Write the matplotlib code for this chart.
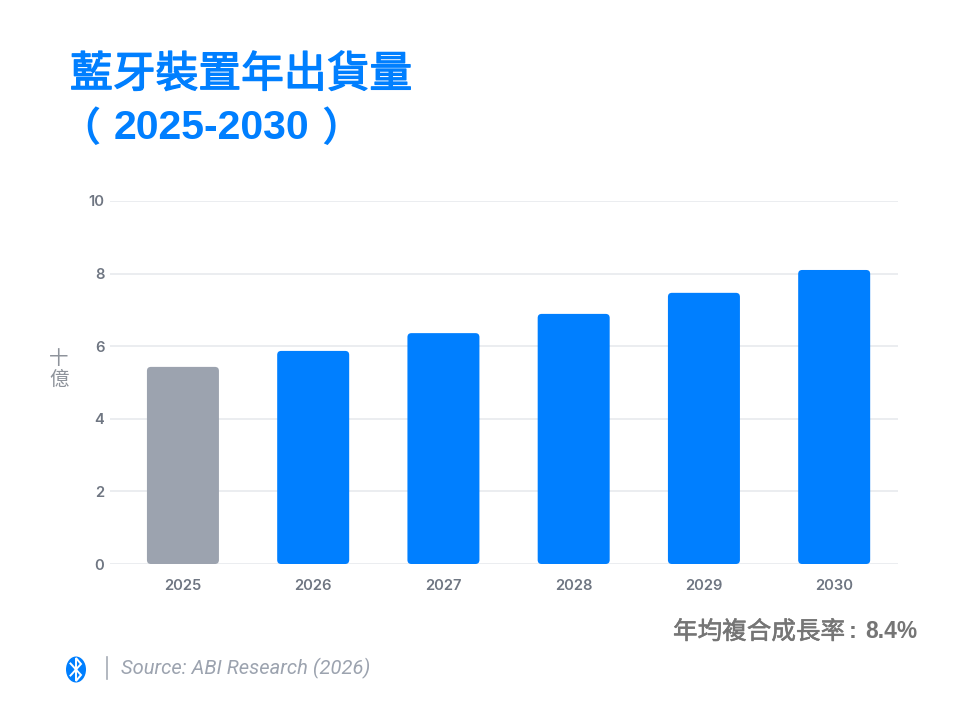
import matplotlib
matplotlib.use("Agg")
import matplotlib.pyplot as plt
import matplotlib.patheffects as pe
from matplotlib.patches import FancyBboxPatch, Ellipse
from matplotlib.lines import Line2D

years = ["2025", "2026", "2027", "2028", "2029", "2030"]
shipments = [5.43, 5.87, 6.36, 6.89, 7.47, 8.10]
bar_colors = ["#9CA3AF", "#007FFF", "#007FFF", "#007FFF", "#007FFF", "#007FFF"]
y_ticks = [0, 2, 4, 6, 8, 10]

W, H = 960, 720
CJK = ["Noto Sans CJK TC", "DejaVu Sans"]
BLUE = "#007FFF"


def fx(px):
    return px / W


def fy(px):
    return 1 - px / H


fig = plt.figure(figsize=(W / 100, H / 100), dpi=100, facecolor="white")
ax = fig.add_axes([fx(110), fy(564), (898 - 110) / W, (564 - 201) / H])

x_lo, x_hi = -0.56, 5.49
ax.set_xlim(x_lo, x_hi)
ax.set_ylim(0, 10)

# Rounded bars: the aspect factor keeps the corners circular in data coordinates
px_per_x = (898 - 110) / (x_hi - x_lo)
px_per_y = (564 - 201) / 10
bar_w = 72 / px_per_x
for i, (val, col) in enumerate(zip(shipments, bar_colors)):
    ax.add_patch(FancyBboxPatch(
        (i - bar_w / 2, 0), bar_w, val,
        boxstyle=f"round,pad=0,rounding_size={4 / px_per_x}",
        mutation_aspect=px_per_x / px_per_y,
        facecolor=col, edgecolor="none", zorder=3))

ax.set_yticks(y_ticks)
ax.set_xticks(range(len(years)))
ax.set_xticklabels(years)
ax.grid(axis="y", color="#E8EAEE", linewidth=1.2, zorder=0)
ax.set_axisbelow(True)
for s in ax.spines.values():
    s.set_visible(False)
ax.tick_params(axis="both", length=0, labelcolor="#6F7682", labelsize=10.6)
ax.tick_params(axis="x", pad=11)
ax.tick_params(axis="y", pad=4)
for lab in ax.get_xticklabels() + ax.get_yticklabels():
    lab.set_fontfamily("Inter")
    lab.set_fontweight("semibold")

# Title block: regular CJK weight thickened with a thin outline of the same colour
fig.text(fx(70), fy(75), "藍牙裝置年出貨量", family=CJK, weight="regular",
         fontsize=30.8, color=BLUE, ha="left", va="center",
         path_effects=[pe.withStroke(linewidth=1.0, foreground=BLUE)])
fig.text(fx(80), fy(129), "（", family=CJK, weight="bold", fontsize=29,
         color=BLUE, ha="center", va="center")
fig.text(fx(211), fy(128), "2025-2030", family="Liberation Sans", weight="bold",
         fontsize=29.5, color=BLUE, ha="center", va="center")
fig.text(fx(341), fy(129), "）", family=CJK, weight="bold", fontsize=29,
         color=BLUE, ha="center", va="center")

# Stacked unit label beside the value axis
fig.text(fx(59), fy(358), "十", family=CJK, weight="light", fontsize=14,
         color="#8E939B", ha="center", va="center")
fig.text(fx(59), fy(379), "億", family=CJK, weight="light", fontsize=14,
         color="#8E939B", ha="center", va="center")

# Growth-rate note
fig.text(fx(673), fy(632), "年均複合成長率", family=CJK, weight="regular",
         fontsize=17.7, color="#757575", ha="left", va="center",
         path_effects=[pe.withStroke(linewidth=0.4, foreground="#757575")])
fig.text(fx(853), fy(631), ":", family="Liberation Sans", weight="bold",
         fontsize=17, color="#757575", ha="center", va="center")
fig.text(fx(917), fy(631), "8.4%", family="Liberation Sans", weight="bold",
         fontsize=16.4, color="#757575", ha="right", va="center")

# Footer: Bluetooth mark, divider and source line
fig.add_artist(Ellipse((fx(76), fy(669.5)), 20 / W, 26 / H, transform=fig.transFigure,
                       facecolor=BLUE, edgecolor="none"))
rune_x = [70.5, 81, 76, 76, 81, 70.5]
rune_y = [663.5, 675, 681, 658, 664, 675.5]
fig.add_artist(Line2D([fx(v) for v in rune_x], [fy(v) for v in rune_y],
                      transform=fig.transFigure, color="white", linewidth=1.4,
                      solid_joinstyle="miter"))
fig.add_artist(Line2D([fx(107), fx(107)], [fy(657), fy(679)], transform=fig.transFigure,
                      color="#A5ABB5", linewidth=1.2))
fig.text(fx(121), fy(668), "Source: ABI Research (2026)", family="Roboto",
         style="italic", fontsize=14.5, color="#9CA3AF", ha="left", va="center")

fig.savefig("out.png", dpi=100, facecolor="white")
